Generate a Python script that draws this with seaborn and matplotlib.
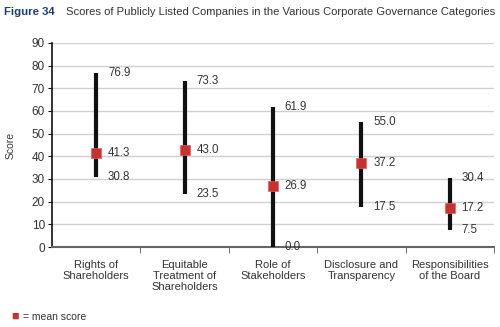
import matplotlib
matplotlib.use("Agg")
import matplotlib.pyplot as plt
import seaborn as sns
import pandas as pd

categories = ["Rights of\nShareholders", "Equitable\nTreatment of\nShareholders",
              "Role of\nStakeholders", "Disclosure and\nTransparency",
              "Responsibilities\nof the Board"]
max_scores = [76.9, 73.3, 61.9, 55.0, 30.4]
mean_scores = [41.3, 43.0, 26.9, 37.2, 17.2]
min_scores = [30.8, 23.5, 0.0, 17.5, 7.5]
y_ticks = [0, 10, 20, 30, 40, 50, 60, 70, 80, 90]

df = pd.DataFrame({"category": categories, "max": max_scores,
                   "mean": mean_scores, "min": min_scores})

sns.set_style("white")
plt.rcParams['font.family'] = ['Liberation Sans', 'DejaVu Sans']

fig = plt.figure(figsize=(5, 3.27), dpi=100)
ax = fig.add_axes([0.104, 0.2446, 0.884, 0.624])

ax.vlines(range(len(categories)), df["min"], df["max"], color="#111111", lw=3, zorder=3)
sns.scatterplot(data=df, x="category", y="mean", marker="s", s=45, color="#c8312d",
                edgecolor="#e06060", linewidth=0.5, ax=ax, zorder=4)

for i, r in df.iterrows():
    for v in (r["max"], r["mean"], r["min"]):
        ax.annotate(f"{v:.1f}", (i, v), xytext=(8.5, 0), textcoords="offset points",
                    va="center", ha="left", fontsize=8.3, color="#333333")

ax.set_xlim(-0.5, len(categories) - 0.5)
ax.set_ylim(0, 90)
ax.set_yticks(y_ticks)
ax.yaxis.grid(True, color="#d0d0d0", lw=1)
ax.set_axisbelow(True)
ax.set_xticks([i + 0.5 for i in range(len(categories))], minor=True)
ax.set_xticks(range(len(categories)))
ax.set_xticklabels(categories, fontsize=8, color="#333333", va="top", linespacing=1.15)
ax.tick_params(axis="x", which="major", length=0, pad=9)
ax.tick_params(axis="x", which="minor", length=4, color="#555555", direction="out", bottom=True)
ax.tick_params(axis="y", length=3, color="#111111", labelsize=8.5, labelcolor="#333333", left=True, pad=2)
for s in ["top", "right"]:
    ax.spines[s].set_visible(False)
ax.spines["left"].set_color("#111111")
ax.spines["left"].set_linewidth(1.2)
ax.spines["bottom"].set_color("#666666")
ax.spines["bottom"].set_linewidth(1.5)
ax.set_xlabel("")
ax.set_ylabel("Score", fontsize=7.5, color="#333333", labelpad=12)

fig.text(0.008, 0.962, "Figure 34", fontsize=8.2, fontweight="bold", color="#1f3f73", va="center")
fig.text(0.132, 0.962, "Scores of Publicly Listed Companies in the Various Corporate Governance Categories",
         fontsize=8.1, color="#333333", va="center")

fig.text(0.022, 0.03, "\u25a0", fontsize=9, color="#c8312d", va="center")
fig.text(0.046, 0.03, "= mean score", fontsize=7.5, color="#333333", va="center")

fig.savefig("out.png", dpi=100)
